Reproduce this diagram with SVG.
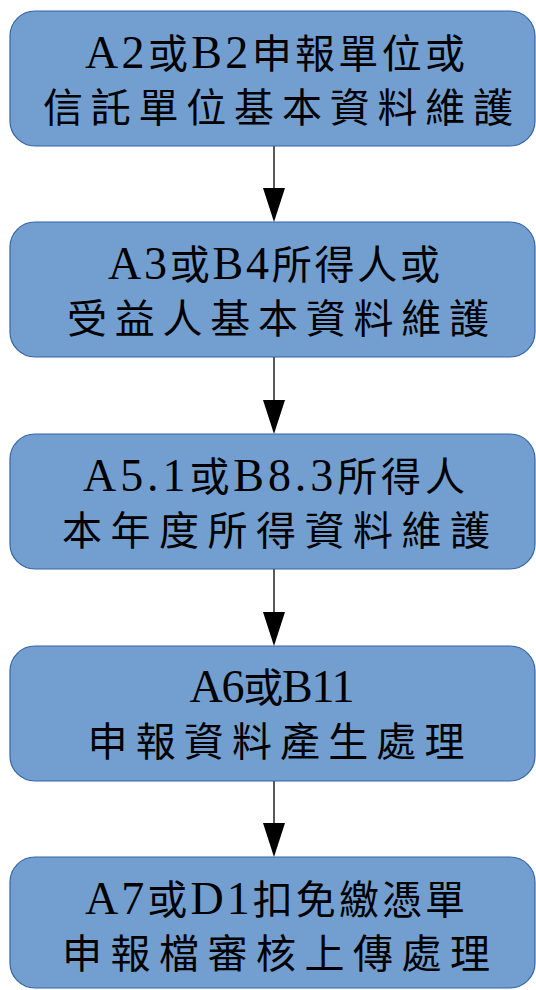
<svg xmlns="http://www.w3.org/2000/svg" width="536" height="990" viewBox="0 0 536 990">
<style>
.box{fill:#729fcf;stroke:#3465a4;stroke-width:1.2}
.t{font-family:"Noto Sans CJK TC","Noto Sans CJK SC",sans-serif;font-size:40px;fill:#000;text-anchor:middle}
.l{font-family:"Liberation Serif",serif;font-size:46px}
.c{stroke:#000;stroke-width:1.3;fill:none}
.h{fill:#000}
</style>
<rect width="536" height="990" fill="#fff"/>
<g id="connectors">
<line class="c" x1="274" y1="146" x2="274" y2="190"/><polygon class="h" points="263,188 285,188 274,222"/>
<line class="c" x1="274" y1="357" x2="274" y2="402"/><polygon class="h" points="263,400 285,400 274,434"/>
<line class="c" x1="274" y1="569" x2="274" y2="614"/><polygon class="h" points="263,612 285,612 274,646"/>
<line class="c" x1="274" y1="781" x2="274" y2="825"/><polygon class="h" points="263,823 285,823 274,857"/>
</g>
<g id="n1">
<rect class="box" x="10" y="11" width="525" height="135" rx="25"/>
<text class="t" x="275" y="68" textLength="380" lengthAdjust="spacing"><tspan class="l">A2</tspan>或<tspan class="l">B2</tspan>申報單位或</text>
<text class="t" x="278" y="122" textLength="470" lengthAdjust="spacing">信託單位基本資料維護</text>
</g>
<g id="n2">
<rect class="box" x="10" y="222" width="525" height="135" rx="25"/>
<text class="t" x="274" y="279" textLength="332" lengthAdjust="spacing"><tspan class="l">A3</tspan>或<tspan class="l">B4</tspan>所得人或</text>
<text class="t" x="278" y="333" textLength="422" lengthAdjust="spacing">受益人基本資料維護</text>
</g>
<g id="n3">
<rect class="box" x="10" y="434" width="525" height="135" rx="25"/>
<text class="t" x="274" y="491" textLength="382" lengthAdjust="spacing"><tspan class="l">A5.1</tspan>或<tspan class="l">B8.3</tspan>所得人</text>
<text class="t" x="276" y="545" textLength="428" lengthAdjust="spacing">本年度所得資料維護</text>
</g>
<g id="n4">
<rect class="box" x="10" y="646" width="525" height="135" rx="25"/>
<text class="t" x="272" y="702" textLength="165" lengthAdjust="spacing"><tspan class="l">A6</tspan>或<tspan class="l">B11</tspan></text>
<text class="t" x="276" y="756" textLength="377" lengthAdjust="spacing">申報資料產生處理</text>
</g>
<g id="n5">
<rect class="box" x="10" y="857" width="525" height="131" rx="25"/>
<text class="t" x="275" y="914" textLength="380" lengthAdjust="spacing"><tspan class="l">A7</tspan>或<tspan class="l">D1</tspan>扣免繳憑單</text>
<text class="t" x="276" y="968" textLength="428" lengthAdjust="spacing">申報檔審核上傳處理</text>
</g>
</svg>
